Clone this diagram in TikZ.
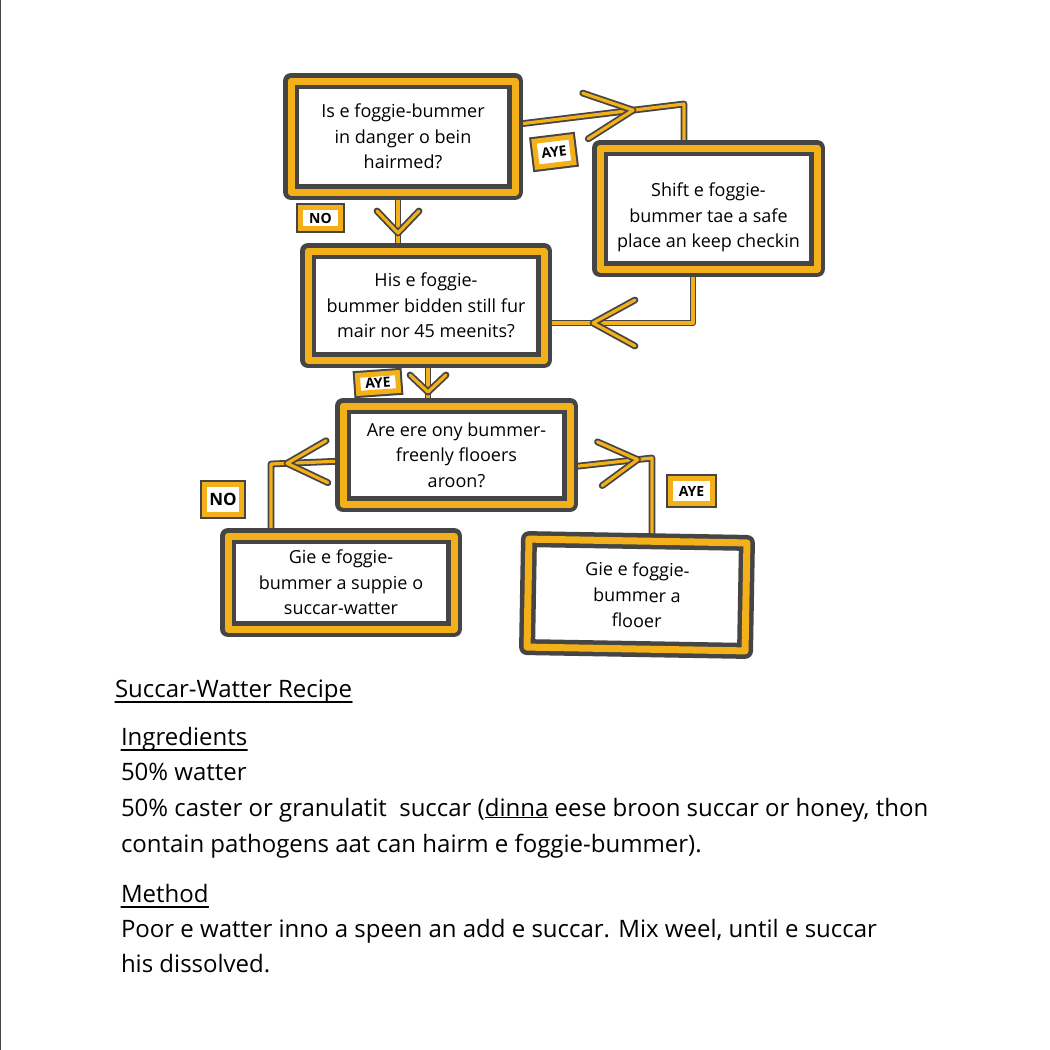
\documentclass[tikz,border=0pt]{standalone}
\usepackage{fontspec}
\setmainfont{Open Sans}
\usetikzlibrary{decorations.markings,backgrounds,calc}
\definecolor{ink}{HTML}{454545}
\definecolor{gold}{HTML}{F4B018}
\begin{document}
\begin{tikzpicture}[x=1pt,y=-1pt,
  box/.style={draw=ink, line width=4.5pt, double=gold, double distance=7pt, fill=white,
    inner sep=0pt, outer sep=0pt, align=center, line join=round,
    font=\fontsize{18}{25.5}\selectfont},
  tag/.style={fill=white, draw=gold, line width=5pt, preaction={draw=ink, line width=9pt},
    inner sep=0pt, outer sep=0pt, font=\bfseries\fontsize{14}{15}\selectfont},
  connline/.style={draw=ink, line width=1.8pt, double=gold, double distance=3.2pt,
    line join=round, line cap=round},
  chev/.style n args={3}{postaction={decorate, decoration={markings,
    mark=at position #1 with {\draw[connline] (-#2,#3) -- (0,0) -- (-#2,-#3);}}}},
  body/.style={anchor=base west, inner sep=0pt, outer sep=0pt,
    font=\fontsize{24}{28}\selectfont},
  uline/.style={draw=black, line width=1.2pt, line cap=round}
]
\useasboundingbox (0,0) rectangle (1050,1050);
\begin{scope}[on background layer]
  \fill[white] (0,0) rectangle (1050,1050);
\end{scope}
\draw[ink, line width=1.2pt] (0.6,0) -- (0.6,1050);

% flowchart boxes
\node[box, minimum width=224pt, minimum height=111pt] (b1) at (403,136.5)
  {Is e foggie-bummer\\in danger o bein\\hairmed?};
\node[box, minimum width=217pt, minimum height=121pt] (b2) at (708.5,208.5)
  {\rule{0pt}{32pt}Shift e foggie-\\bummer tae a safe\\place an keep checkin};
\node[box, minimum width=236pt, minimum height=109pt] (b3) at (426,305.5)
  {His e foggie-\\bummer bidden still fur\\mair nor 45 meenits?};
\node[box, minimum width=227pt, minimum height=98pt] (b4) at (456.5,455)
  {Are ere ony bummer-\\freenly flooers\\aroon?};
\node[box, minimum width=226pt, minimum height=93pt] (b5) at (341,582.5)
  {Gie e foggie-\\bummer a suppie o\\succar-watter};
\node[box, minimum width=218pt, minimum height=108pt, rotate=-1] (b6) at (637,595)
  {Gie e foggie-\\bummer a\\flooer};

% answer tags
\node[tag, minimum width=40pt, minimum height=21pt] (n1) at (320.5,218) {NO};
\node[tag, minimum width=37pt, minimum height=26pt, rotate=7] (a1) at (554,152) {AYE};
\node[tag, minimum width=40pt, minimum height=18pt, rotate=4] (a2) at (378,383) {AYE};
\node[tag, minimum width=37pt, minimum height=30pt, font=\bfseries\fontsize{17}{18}\selectfont] (n2) at (223,499.5) {NO};
\node[tag, minimum width=42pt, minimum height=25pt] (a3) at (691.5,491) {AYE};

% connectors
\coordinate (k1) at (684,104);
\coordinate (k2) at (693,323);
\coordinate (k4) at (271,464);
\coordinate (k5) at (652,458);
\begin{scope}[on background layer]
  \draw[connline, chev={41pt}{22}{21}] ([xshift=-5pt]b1.south) -- ([xshift=-5pt]b1.south |- b3.north);
  \draw[connline, chev={119pt}{48}{23}] ([yshift=12pt]b1.east) -- (k1) -- (k1 |- b2.north);
  \draw[connline, chev={154pt}{42}{23}] ([xshift=-15.5pt]b2.south) -- (k2) -- (k2 -| b3.east);
  \draw[connline, chev={32pt}{17}{18}] ([xshift=2pt]b3.south) -- ([xshift=2pt]b3.south |- b4.north);
  \draw[connline, chev={56pt}{40}{21}] ([yshift=-6pt]b4.west) -- (k4) -- (k4 |- b5.north);
  \draw[connline, chev={68pt}{38}{22}] ([yshift=-12pt]b4.east) -- (k5) -- (k5 |- b6.north);
\end{scope}

% recipe
\node[body] (t0) at (115,697) {Succar-Watter Recipe};
\draw[uline] ([yshift=-5pt]t0.base west) -- ([yshift=-5pt]t0.base east);
\node[body] (t1) at (121,745) {Ingredients};
\draw[uline] ([yshift=-5pt]t1.base west) -- ([yshift=-5pt]t1.base east);
\node[body] (t2) at (121,780) {50\% watter};
\node[body] (t3) at (121,816) {50\% caster or granulatit\ \ succar (\underline{dinna} eese broon succar or honey, thon};
\node[body] (t4) at (121,852) {contain pathogens aat can hairm e foggie-bummer).};
\node[body] (t5) at (121,902) {Method};
\draw[uline] ([yshift=-5pt]t5.base west) -- ([yshift=-5pt]t5.base east);
\node[body] (t6) at (121,937) {Poor e watter inno a speen an add e succar. Mix weel, until e succar};
\node[body] (t7) at (121,972) {his dissolved.};
\end{tikzpicture}
\end{document}
